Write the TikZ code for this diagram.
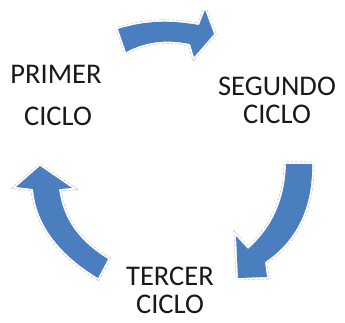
\documentclass[tikz,border=0pt]{standalone}
\usepackage{fontspec}
\setmainfont{Carlito}
\begin{document}
\begin{tikzpicture}[x=1pt,y=-1pt,
  lbl/.style={font=\fontsize{28.5}{30}\selectfont, anchor=base, inner sep=0pt, text=black!90},
  glowline/.style={draw=gray!45, line width=4.6pt, dash pattern=on 3pt off 1.5pt},
  whiteline/.style={draw=white, line width=3.4pt},
  blockarrow/.style={fill={rgb,255:red,74;green,126;blue,190}}]
\useasboundingbox (0,0) rectangle (345,322);
% top arrow
\def\arrowtop{(118,29) .. controls (150,19) and (175,21) .. (199,25) -- (205,10) -- (214,34) -- (194,57) -- (190,44) .. controls (165,39) and (145,42) .. (126,52) -- cycle}
% right arrow
\def\arrowright{(286,164) -- (312,164) .. controls (313,205) and (298,240) .. (265,262) -- (267,277) -- (238,278) -- (236,236) -- (248,249) .. controls (272,228) and (285,200) .. (286,164) -- cycle}
% left arrow
\def\arrowleft{(40,166) -- (72,188) -- (59,189) .. controls (63,220) and (80,242) .. (108,259) -- (98,278) .. controls (60,255) and (36,225) .. (33,189) -- (16,187) -- cycle}
\foreach \p in {\arrowtop,\arrowright,\arrowleft}{
  \path[glowline] \p;
  \path[whiteline] \p;
  \path[blockarrow] \p;
}
\node[lbl] (p1) at (56,83) {PRIMER};
\node[lbl] (p2) at (58,125) {CICLO};
\node[lbl] (s1) at (277,95) {SEGUNDO};
\node[lbl] (s2) at (277,123) {CICLO};
\node[lbl] (t1) at (170,285) {TERCER};
\node[lbl] (t2) at (170,313) {CICLO};
\end{tikzpicture}
\end{document}
